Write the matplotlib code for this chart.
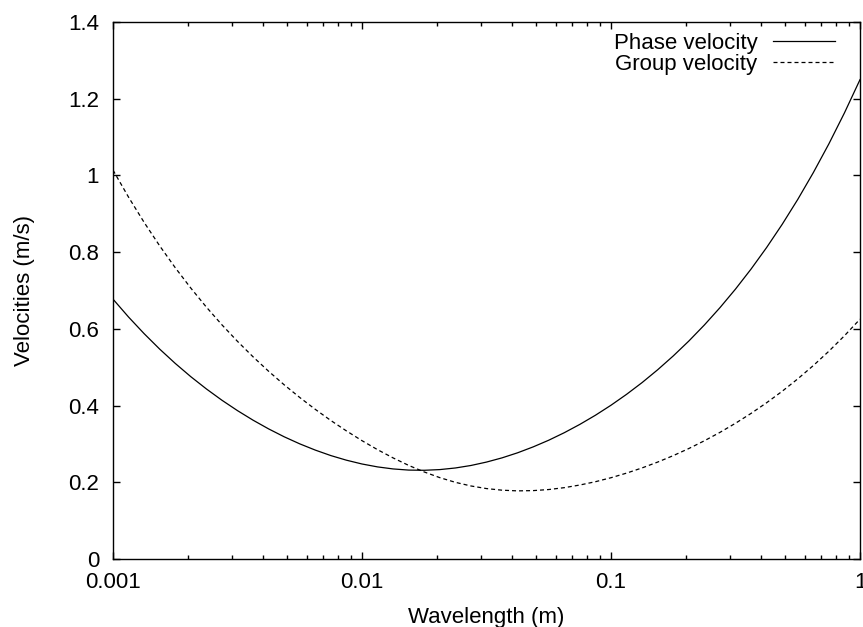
import matplotlib
matplotlib.use("Agg")
import matplotlib.pyplot as plt
from matplotlib.ticker import LogLocator, NullFormatter, FixedLocator

# Wavelength (m), read along the log axis
wavelength = [0.001, 0.00115478, 0.00133352, 0.00153993, 0.00177828, 0.00205353,
              0.00237137, 0.00273842, 0.00316228, 0.00365174, 0.00421697, 0.00486968,
              0.00562341, 0.00649382, 0.00749894, 0.00865964,
              0.01, 0.0115478, 0.0133352, 0.0153993, 0.0177828, 0.0205353,
              0.0237137, 0.0273842, 0.0316228, 0.0365174, 0.0421697, 0.0486968,
              0.0562341, 0.0649382, 0.0749894, 0.0865964,
              0.1, 0.115478, 0.133352, 0.153993, 0.177828, 0.205353,
              0.237137, 0.273842, 0.316228, 0.365174, 0.421697, 0.486968,
              0.562341, 0.649382, 0.749894, 0.865964, 1.0]

# Velocities (m/s)
phase_velocity = [0.6775, 0.6308, 0.5875, 0.5472, 0.5099, 0.4753, 0.4434, 0.4139,
                  0.3868, 0.3619, 0.3392, 0.3186, 0.3002, 0.2839, 0.2696, 0.2576,
                  0.2477, 0.2401, 0.2348, 0.2318, 0.2313, 0.2331, 0.2373, 0.2438,
                  0.2527, 0.2637, 0.2769, 0.2923, 0.3097, 0.3293, 0.3510, 0.3748,
                  0.4009, 0.4293, 0.4600, 0.4934, 0.5294, 0.5682, 0.6101, 0.6552,
                  0.7037, 0.7559, 0.8121, 0.8725, 0.9374, 1.0073, 1.0823, 1.1630,
                  1.2497]
group_velocity = [1.0139, 0.9433, 0.8776, 0.8164, 0.7594, 0.7063, 0.6567, 0.6105,
                  0.5674, 0.5271, 0.4894, 0.4541, 0.4211, 0.3901, 0.3610, 0.3339,
                  0.3085, 0.2850, 0.2635, 0.2440, 0.2269, 0.2121, 0.1999, 0.1904,
                  0.1836, 0.1794, 0.1776, 0.1783, 0.1811, 0.1860, 0.1929, 0.2015,
                  0.2119, 0.2239, 0.2375, 0.2527, 0.2695, 0.2880, 0.3082, 0.3301,
                  0.3539, 0.3796, 0.4074, 0.4373, 0.4696, 0.5043, 0.5417, 0.5820,
                  0.6252]

x_ticks = [0.001, 0.01, 0.1, 1]
x_labels = ["0.001", "0.01", "0.1", "1"]
y_ticks = [0, 0.2, 0.4, 0.6, 0.8, 1, 1.2, 1.4]
y_labels = ["0", "0.2", "0.4", "0.6", "0.8", "1", "1.2", "1.4"]

plt.rcParams['font.family'] = ['Liberation Sans', 'DejaVu Sans']
FS = 16

fig = plt.figure(figsize=(8.63, 6.27), dpi=100)
ax = fig.add_axes([113 / 863, 1 - 559 / 627, (860 - 113) / 863, (559 - 22) / 627])

ax.plot(wavelength, phase_velocity, color='black', lw=0.9, label='Phase velocity')
ax.plot(wavelength, group_velocity, color='black', lw=0.9, dashes=(3.2, 2.4),
        label='Group velocity')

ax.set_xscale('log')
ax.set_xlim(0.001, 1)
ax.set_ylim(0, 1.4)

ax.xaxis.set_major_locator(FixedLocator(x_ticks))
ax.set_xticklabels(x_labels)
ax.xaxis.set_minor_locator(LogLocator(base=10, subs=range(2, 10)))
ax.xaxis.set_minor_formatter(NullFormatter())
ax.set_yticks(y_ticks)
ax.set_yticklabels(y_labels)

ax.tick_params(which='both', direction='in', top=True, right=True, labelsize=FS,
               width=1.0, colors='black')
ax.tick_params(which='major', length=5)
ax.tick_params(which='minor', length=3)
ax.tick_params(axis='x', pad=9.7)
ax.tick_params(axis='y', pad=10)

for sp in ax.spines.values():
    sp.set_linewidth(1.0)

ax.set_xlabel('Wavelength (m)', fontsize=FS, labelpad=9.5)
ax.set_ylabel('Velocities (m/s)', fontsize=FS, labelpad=24)

ax.legend(loc='upper right', bbox_to_anchor=(0.9811, 1.0), frameon=False,
          markerfirst=False, fontsize=FS, handlelength=2.8, handletextpad=0.68,
          labelspacing=0.0, borderaxespad=0.1)

fig.savefig('out.png', dpi=100)
